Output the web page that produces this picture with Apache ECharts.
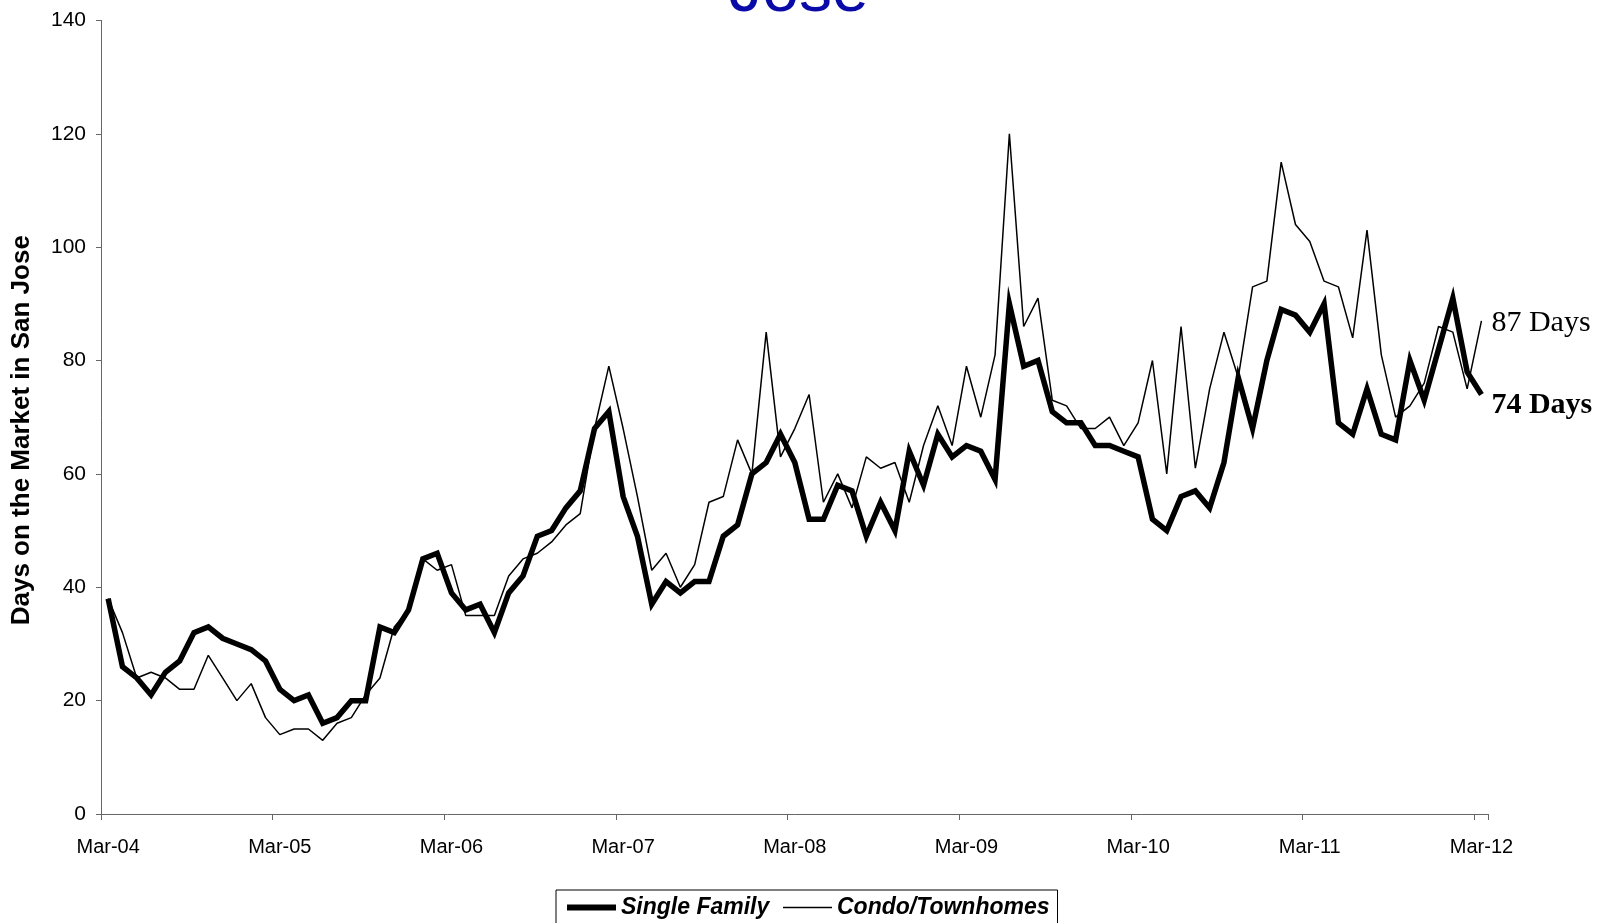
<!DOCTYPE html>
<html>
<head>
<meta charset="utf-8">
<script src="https://cdn.jsdelivr.net/npm/echarts@6/dist/echarts.min.js"></script>
<style>html,body{margin:0;padding:0;background:#fff;}#c{width:1600px;height:923px;}</style>
</head>
<body>
<div id="c"></div>
<script>
// Month labels, Mar-04 .. Mar-12 (monthly)
const monthNames = ['Jan','Feb','Mar','Apr','May','Jun','Jul','Aug','Sep','Oct','Nov','Dec'];
const startYear = 2004, startMonth = 2, monthCount = 97;
const categories = [];
for (let k = 0; k < monthCount; k++) {
  const m = (startMonth + k) % 12;
  const y = startYear + Math.floor((startMonth + k) / 12);
  categories.push(monthNames[m] + '-' + String(y % 100).padStart(2, '0'));
}

const singleFamily = [
  38, 26, 24, 21, 25, 27, 32, 33, 31, 30, 29, 27,
  22, 20, 21, 16, 17, 20, 20, 33, 32, 36, 45, 46,
  39, 36, 37, 32, 39, 42, 49, 50, 54, 57, 68, 71,
  56, 49, 37, 41, 39, 41, 41, 49, 51, 60, 62, 67,
  62, 52, 52, 58, 57, 49, 55, 50, 64, 58, 67, 63,
  65, 64, 59, 90, 79, 80, 71, 69, 69, 65, 65, 64,
  63, 52, 50, 56, 57, 54, 62, 77, 68, 80, 89, 88,
  85, 90, 69, 67, 75, 67, 66, 80, 73, 82, 91, 78,
  74
];
const condo = [
  38, 32, 24, 25, 24, 22, 22, 28, 24, 20, 23, 17,
  14, 15, 15, 13, 16, 17, 21, 24, 33, 36, 45, 43,
  44, 35, 35, 35, 42, 45, 46, 48, 51, 53, 68, 79,
  68, 56, 43, 46, 40, 44, 55, 56, 66, 60, 85, 63,
  68, 74, 55, 60, 54, 63, 61, 62, 55, 65, 72, 65,
  79, 70, 81, 120, 86, 91, 73, 72, 68, 68, 70, 65,
  69, 80, 60, 86, 61, 75, 85, 77, 93, 94, 115, 104,
  101, 94, 93, 84, 103, 81, 70, 72, 76, 86, 85, 75,
  87
];
const seriesNames = ['Single Family', 'Condo/Townhomes'];
const yTitle = 'Days on the Market in San Jose';
const titleText = 'Jose';
const yMin = 0, yMax = 140, yStep = 20;

const chart = echarts.init(document.getElementById('c'), null, {renderer: 'canvas'});
const sans = 'Liberation Sans, Arial, sans-serif';
const serif = 'Liberation Serif, Times New Roman, serif';

chart.setOption({
  animation: false,
  backgroundColor: '#fff',
  graphic: [{
    type: 'text', x: 799, y: -7,
    style: {text: titleText, font: '66px ' + sans, fill: '#0a0aa8', align: 'center', verticalAlign: 'middle'}
  }],
  grid: {left: 101, right: 111.4, top: 20.4, bottom: 109, containLabel: false, outerBoundsMode: 'none'},
  legend: {
    left: 556, top: 890,
    padding: [6, 8, 14, 8],
    borderColor: '#000', borderWidth: 1,
    itemWidth: 49, itemHeight: 14, itemGap: 13,
    data: [
      {name: seriesNames[0], itemStyle: {opacity: 0}, lineStyle: {width: 6, color: '#000'}},
      {name: seriesNames[1], itemStyle: {opacity: 0}, lineStyle: {width: 1.5, color: '#000'}}
    ],
    textStyle: {fontFamily: sans, fontSize: 23, fontWeight: 'bold', fontStyle: 'italic', color: '#000'}
  },
  xAxis: {
    type: 'category',
    data: categories,
    boundaryGap: true,
    axisLine: {lineStyle: {color: '#666', width: 1}},
    axisTick: {show: true, interval: 11, length: 6, inside: false, lineStyle: {color: '#666'}},
    axisLabel: {interval: 11, margin: 23, fontFamily: sans, fontSize: 20, color: '#000'},
    splitLine: {show: false}
  },
  yAxis: {
    type: 'value',
    min: yMin, max: yMax, interval: yStep,
    name: yTitle,
    nameLocation: 'middle',
    nameRotate: 90,
    nameGap: 66,
    nameTextStyle: {fontFamily: sans, fontSize: 26, fontWeight: 'bold', color: '#000', padding: [0, 26, 0, 0]},
    axisLine: {show: true, lineStyle: {color: '#666', width: 1}},
    axisTick: {show: true, length: 5, inside: false, lineStyle: {color: '#666'}},
    axisLabel: {margin: 15, fontFamily: sans, fontSize: 21, color: '#000'},
    splitLine: {show: false}
  },
  series: [
    {
      name: seriesNames[0], type: 'line', data: singleFamily,
      symbol: 'none', lineStyle: {color: '#000', width: 5.5, join: 'miter'}, itemStyle: {color: '#000'},
      endLabel: {show: true, formatter: p => p.value + ' Days', fontFamily: serif, fontSize: 30, fontWeight: 'bold', color: '#000', distance: 10, offset: [0, 11]}
    },
    {
      name: seriesNames[1], type: 'line', data: condo,
      symbol: 'none', lineStyle: {color: '#000', width: 1.5}, itemStyle: {color: '#000'},
      endLabel: {show: true, formatter: p => p.value + ' Days', fontFamily: serif, fontSize: 30, color: '#000', distance: 10, offset: [0, 2]}
    }
  ]
});
</script>
</body>
</html>
